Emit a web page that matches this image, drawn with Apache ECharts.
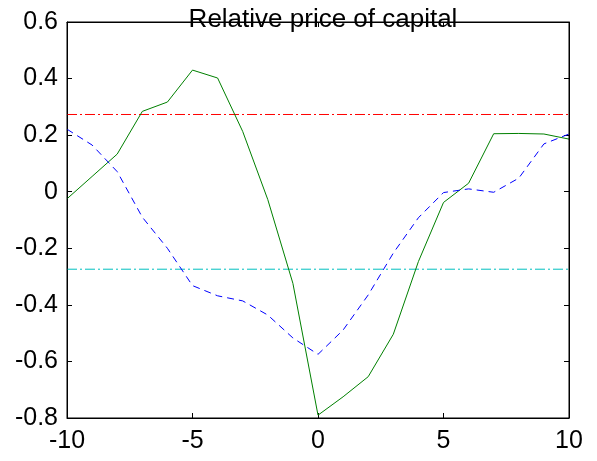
<!DOCTYPE html>
<html>
<head>
<meta charset="utf-8">
<script src="https://cdn.jsdelivr.net/npm/echarts@6/dist/echarts.min.js"></script>
<style>
html,body{margin:0;padding:0;background:#fff;}
#chart{width:597px;height:461px;}
</style>
</head>
<body>
<div id="chart"></div>
<script>
// Data
var horizons = [-10,-9,-8,-7,-6,-5,-4,-3,-2,-1,0,1,2,3,4,5,6,7,8,9,10];
var solidSeries = [-0.025,0.054,0.133,0.284,0.317,0.430,0.402,0.213,-0.028,-0.324,-0.790,-0.725,-0.654,-0.504,-0.247,-0.038,0.030,0.205,0.206,0.204,0.186];
var dashedSeries = [0.221,0.165,0.071,-0.090,-0.200,-0.332,-0.368,-0.386,-0.436,-0.517,-0.575,-0.489,-0.365,-0.217,-0.092,-0.003,0.010,-0.002,0.048,0.169,0.204];
var upperBand = 0.273;
var lowerBand = -0.274;
var xTicks = [-10, 10, 5];   // min, max, interval
var yTicks = [-0.8, 0.6, 0.2];
var titleText = 'Relative price of capital';

var FONT = '"Liberation Sans", Arial, Helvetica, sans-serif';

function pairs(xs, ys){ return xs.map(function(x,i){ return [x, ys[i]]; }); }

var chart = echarts.init(document.getElementById('chart'), null, {renderer:'canvas'});

var axisLineStyle = {show:true, onZero:false, lineStyle:{color:'#000', width:1}};
var tickStyle = {show:true, inside:true, length:5, lineStyle:{color:'#000', width:1}};

function bandSeries(value, color){
  return {type:'line', xAxisIndex:0, yAxisIndex:0, z:2,
    data:[[xTicks[0], value],[xTicks[1], value]],
    showSymbol:false, symbol:'none', silent:true,
    itemStyle:{color:color},
    lineStyle:{color:color, width:1, type:[10,3,2,3]}};
}

chart.setOption({
  backgroundColor:'#fff',
  animation:false,
  title:{
    text:titleText, z:0,
    left:318, top:2, textAlign:'center',
    textStyle:{fontFamily:FONT, fontSize:26, fontWeight:'normal', color:'#000'}
  },
  grid:{left:67, right:28, top:22, bottom:43, containLabel:false, z:5,
        show:true, borderColor:'#000', borderWidth:1, backgroundColor:'transparent'},
  xAxis:[
    {type:'value', position:'bottom', min:xTicks[0], max:xTicks[1], interval:xTicks[2],
     axisLine:axisLineStyle, axisTick:tickStyle, splitLine:{show:false},
     axisLabel:{margin:11, color:'#000', fontFamily:FONT, fontSize:25}},
    {type:'value', position:'top', min:xTicks[0], max:xTicks[1], interval:xTicks[2], z:10,
     axisLine:axisLineStyle, axisTick:tickStyle, splitLine:{show:false},
     axisLabel:{show:false}}
  ],
  yAxis:[
    {type:'value', position:'left', min:yTicks[0], max:yTicks[1], interval:yTicks[2],
     axisLine:axisLineStyle, axisTick:tickStyle, splitLine:{show:false},
     axisLabel:{margin:9, color:'#000', fontFamily:FONT, fontSize:25,
       formatter:function(v){ var r=Math.round(v*10)/10; return r===0?'0':String(r); }}},
    {type:'value', position:'right', min:yTicks[0], max:yTicks[1], interval:yTicks[2],
     axisLine:axisLineStyle, axisTick:tickStyle, splitLine:{show:false},
     axisLabel:{show:false}}
  ],
  series:[
    bandSeries(upperBand, '#ff0000'),
    bandSeries(lowerBand, '#00bfbf'),
    {type:'line', xAxisIndex:0, yAxisIndex:0, data:pairs(horizons, solidSeries),
     showSymbol:false, symbol:'none', silent:true,
     lineStyle:{color:'#008000', width:1, type:'solid'}, z:3},
    {type:'line', xAxisIndex:0, yAxisIndex:0, data:pairs(horizons, dashedSeries),
     showSymbol:false, symbol:'none', silent:true,
     lineStyle:{color:'#0000ff', width:1, type:[7,5]}, z:3}
  ]
});
</script>
</body>
</html>
